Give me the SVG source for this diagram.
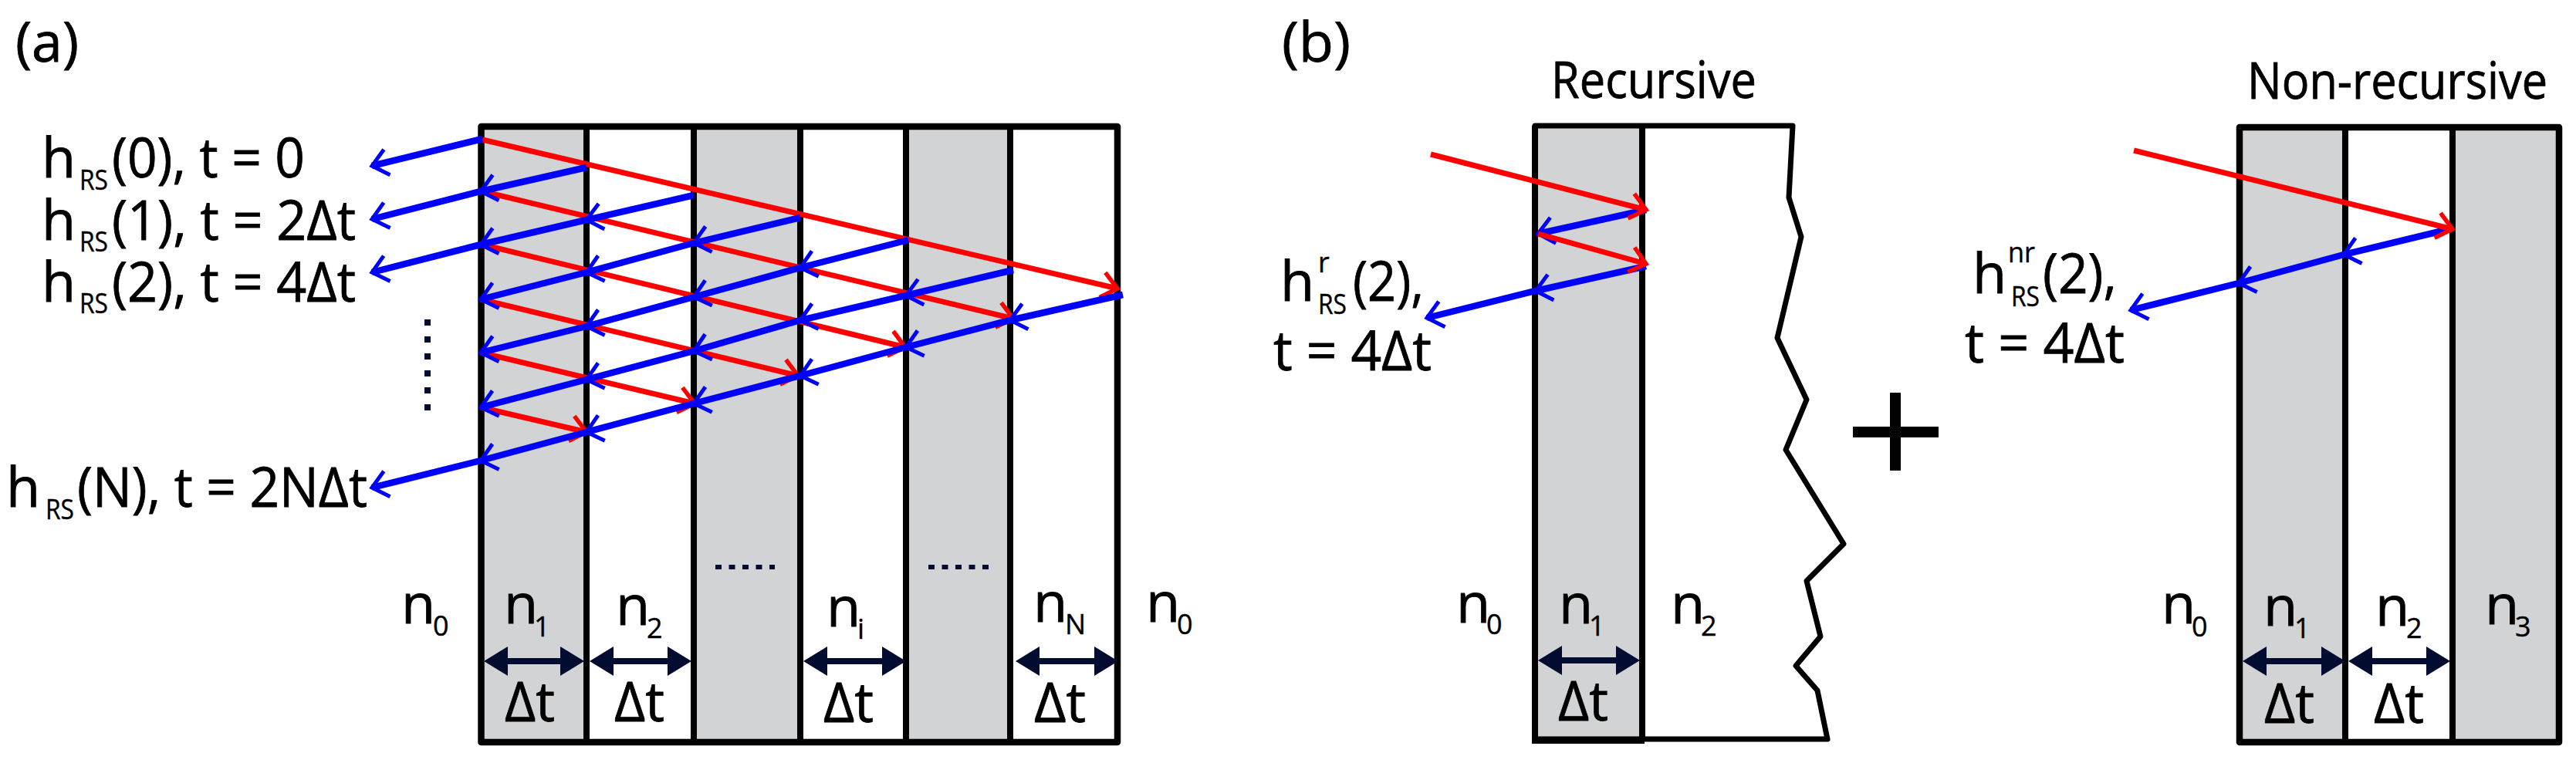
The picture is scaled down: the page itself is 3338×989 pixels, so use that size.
<svg xmlns="http://www.w3.org/2000/svg" width="3338" height="989" viewBox="0 0 3338 989">
<style>
text{font-family:"Open Sans","Noto Sans",sans-serif;fill:#000;stroke:#000;stroke-width:.8}
.t{font-size:72px}
.s{font-size:36px;stroke-width:.4}
.h{font-size:65px}
.gray{fill:#d1d3d4}
.frame{fill:none;stroke:#000;stroke-width:8.500;stroke-linejoin:round}
.wall{stroke:#000;stroke-width:8;fill:none}
.red{stroke:#f00;stroke-width:7;fill:none;marker-end:url(#rh)}
.blue{stroke:#00f;stroke-width:8.500;fill:none;marker-mid:url(#bh);marker-end:url(#bh)}
.dim{stroke:#020b30;stroke-width:8;fill:none;marker-start:url(#dh);marker-end:url(#dh)}
.dots{stroke:#020b30;fill:none}
</style>
<defs>
<marker id="rh" markerUnits="userSpaceOnUse" viewBox="-26 -22 32 44" markerWidth="32" markerHeight="44" refX="0" refY="0" orient="auto"><path d="M-20,-16.500 L0,0 L-20,16.500" fill="none" stroke="#f00" stroke-width="5.500"/></marker>
<marker id="bh" markerUnits="userSpaceOnUse" viewBox="-26 -22 32 44" markerWidth="32" markerHeight="44" refX="0" refY="0" orient="auto"><path d="M-20,-17 L0,0 L-20,17" fill="none" stroke="#00f" stroke-width="5"/></marker>
<marker id="dh" markerUnits="userSpaceOnUse" viewBox="0 -20 32 40" markerWidth="32" markerHeight="40" refX="0" refY="0" orient="auto-start-reverse"><path d="M0,-19 L31,0 L0,19 Z" fill="#020b30"/></marker>
</defs>
<rect width="3338" height="989" fill="#fff"/>

<g id="panel-a">
<rect class="gray" x="623" y="164" width="137" height="798"/>
<rect class="gray" x="899" y="164" width="138" height="798"/>
<rect class="gray" x="1174" y="164" width="135" height="798"/>
<path class="wall" d="M760,164V962M899,164V962M1037,164V962M1174,164V962M1309,164V962"/>
<rect class="frame" x="623.500" y="164" width="824.500" height="798"/>
</g>

<g id="panel-b-recursive">
<rect class="gray" x="1989" y="163" width="139" height="797"/>
<path class="frame" style="stroke-width:7" d="M1989,163H2323L2318,256L2334,307L2303,438L2341,518L2314,583L2389,705L2341,753L2359,825L2327,863L2355,895L2368,958H1989Z"/>
<path class="wall" d="M1989,163V962M2128,163V960M1985,960H2131"/>
</g>

<g id="panel-b-nonrecursive">
<rect class="gray" x="2902" y="165" width="137" height="797"/>
<rect class="gray" x="3178" y="165" width="138" height="797"/>
<path class="wall" d="M3039,165V962M3178,165V962"/>
<rect class="frame" x="2902" y="165" width="414" height="797"/>
</g>

<g id="connectors">
<line class="red" x1="625" y1="181" x2="1448" y2="374"/>
<line class="red" x1="625" y1="248" x2="1313" y2="413"/>
<line class="red" x1="625" y1="317" x2="1173" y2="450"/>
<line class="red" x1="623" y1="388" x2="1034" y2="487"/>
<line class="red" x1="623" y1="457" x2="900" y2="523"/>
<line class="red" x1="623" y1="528" x2="760" y2="560"/>
<polyline class="blue" points="625,180 482,215"/>
<polyline class="blue" points="760,217 623,248 482,284"/>
<polyline class="blue" points="899,253 760,285 623,317 482,353"/>
<polyline class="blue" points="1037,282 899,315 760,353 623,388"/>
<polyline class="blue" points="1177,311 1037,347 899,385 760,423 623,457"/>
<polyline class="blue" points="1313,350 1174,383 1037,415 899,455 760,492 623,528"/>
<polyline class="blue" points="1455,382 1309,415 1174,450 1037,487 899,523 760,560 623,597 482,632"/>

<polyline class="blue" points="2133,272 1993,303"/>
<polyline class="blue" points="2133,345 1990,377 1849,412"/>
<line class="red" x1="1854" y1="200" x2="2133" y2="272"/>
<line class="red" x1="1993" y1="303" x2="2133" y2="342"/>

<polyline class="blue" points="3178,296 3037,330 2901,367 2761,402"/>
<line class="red" x1="2765" y1="195" x2="3178" y2="297"/>

<line class="dim" x1="658" y1="857" x2="726" y2="857"/>
<line class="dim" x1="795" y1="857" x2="865" y2="857"/>
<line class="dim" x1="1072" y1="857" x2="1143" y2="857"/>
<line class="dim" x1="1347" y1="857" x2="1418" y2="857"/>
<line class="dim" x1="2024" y1="856" x2="2094" y2="856"/>
<line class="dim" x1="2937" y1="857" x2="3008" y2="857"/>
<line class="dim" x1="3074" y1="857" x2="3144" y2="857"/>
</g>

<g id="dots-a">
<line class="dots" x1="554" y1="414" x2="554" y2="533" stroke-width="8" stroke-dasharray="8 14"/>
<line class="dots" x1="927" y1="735" x2="1004" y2="735" stroke-width="6" stroke-dasharray="8 9.500"/>
<line class="dots" x1="1203" y1="735" x2="1281" y2="735" stroke-width="6" stroke-dasharray="8 9.500"/>
</g>

<g id="plus-sign"><path d="M2449,509H2463V553H2512V567H2463V610H2449V567H2401V553H2449Z" fill="#000"/></g>

<g id="labels-a">
<text class="t" x="20" y="80" textLength="82" lengthAdjust="spacingAndGlyphs">(a)</text>
<text class="t" x="54" y="230">h<tspan class="s" x="103" y="246" textLength="37" lengthAdjust="spacingAndGlyphs">RS</tspan><tspan x="145" y="230" textLength="250" lengthAdjust="spacingAndGlyphs">(0), t = 0</tspan></text>
<text class="t" x="54" y="311">h<tspan class="s" x="103" y="326" textLength="37" lengthAdjust="spacingAndGlyphs">RS</tspan><tspan x="145" y="311" textLength="316" lengthAdjust="spacingAndGlyphs">(1), t = 2Δt</tspan></text>
<text class="t" x="54" y="391">h<tspan class="s" x="103" y="406" textLength="37" lengthAdjust="spacingAndGlyphs">RS</tspan><tspan x="145" y="391" textLength="316" lengthAdjust="spacingAndGlyphs">(2), t = 4Δt</tspan></text>
<text class="t" x="8" y="657">h<tspan class="s" x="59" y="673" textLength="37" lengthAdjust="spacingAndGlyphs">RS</tspan><tspan x="100" y="657" textLength="376" lengthAdjust="spacingAndGlyphs">(N), t = 2NΔt</tspan></text>
<text class="t" x="520" y="808">n<tspan class="s" x="561" y="824">0</tspan></text>
<text class="t" x="653" y="808">n<tspan class="s" x="692" y="825">1</tspan></text>
<text class="t" x="798" y="810">n<tspan class="s" x="838" y="827">2</tspan></text>
<text class="t" x="1071" y="812">n<tspan class="s" x="1111" y="828">i</tspan></text>
<text class="t" x="1339" y="806">n<tspan class="s" x="1380" y="822">N</tspan></text>
<text class="t" x="1485" y="806">n<tspan class="s" x="1525" y="822">0</tspan></text>
<text class="t" x="654" y="935" textLength="65" lengthAdjust="spacingAndGlyphs">Δt</text>
<text class="t" x="796" y="935" textLength="65" lengthAdjust="spacingAndGlyphs">Δt</text>
<text class="t" x="1067" y="936" textLength="65" lengthAdjust="spacingAndGlyphs">Δt</text>
<text class="t" x="1340" y="936" textLength="67" lengthAdjust="spacingAndGlyphs">Δt</text>
</g>

<g id="labels-b">
<text class="t" x="1661" y="80" textLength="89" lengthAdjust="spacingAndGlyphs">(b)</text>
<text class="h" x="2010" y="127" textLength="266" lengthAdjust="spacingAndGlyphs">Recursive</text>
<text class="t" x="1659" y="390">h<tspan class="s" x="1708" y="353">r</tspan><tspan class="s" x="1708" y="407" textLength="37" lengthAdjust="spacingAndGlyphs">RS</tspan><tspan x="1753" y="390" textLength="92" lengthAdjust="spacingAndGlyphs">(2),</tspan></text>
<text class="t" x="1650" y="480" textLength="205" lengthAdjust="spacingAndGlyphs">t = 4Δt</text>
<text class="t" x="1887" y="807">n<tspan class="s" x="1926" y="822">0</tspan></text>
<text class="t" x="2020" y="808">n<tspan class="s" x="2059" y="824">1</tspan></text>
<text class="t" x="2165" y="808">n<tspan class="s" x="2204" y="824">2</tspan></text>
<text class="t" x="2019" y="934" textLength="65" lengthAdjust="spacingAndGlyphs">Δt</text>

<text class="h" x="2912" y="128" textLength="389" lengthAdjust="spacingAndGlyphs">Non-recursive</text>
<text class="t" x="2556" y="380">h<tspan class="s" x="2602" y="340" textLength="35" lengthAdjust="spacingAndGlyphs">nr</tspan><tspan class="s" x="2606" y="397" textLength="37" lengthAdjust="spacingAndGlyphs">RS</tspan><tspan x="2647" y="380" textLength="96" lengthAdjust="spacingAndGlyphs">(2),</tspan></text>
<text class="t" x="2546" y="470" textLength="207" lengthAdjust="spacingAndGlyphs">t = 4Δt</text>
<text class="t" x="2801" y="808">n<tspan class="s" x="2840" y="825">0</tspan></text>
<text class="t" x="2933" y="811">n<tspan class="s" x="2973" y="827">1</tspan></text>
<text class="t" x="3078" y="811">n<tspan class="s" x="3118" y="827">2</tspan></text>
<text class="t" x="3220" y="809">n<tspan class="s" x="3259" y="825">3</tspan></text>
<text class="t" x="2934" y="937" textLength="65" lengthAdjust="spacingAndGlyphs">Δt</text>
<text class="t" x="3076" y="937" textLength="65" lengthAdjust="spacingAndGlyphs">Δt</text>
</g>
</svg>
